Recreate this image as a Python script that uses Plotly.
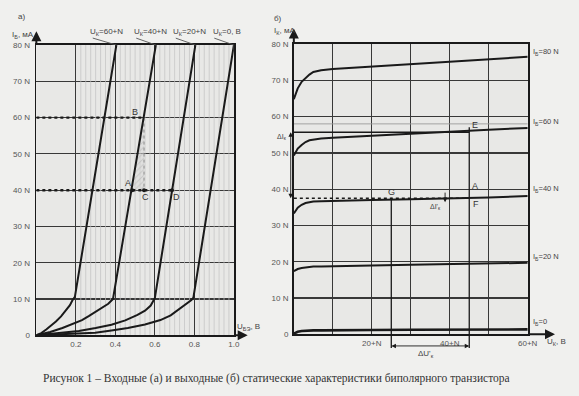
import plotly.graph_objects as go

W, H = 579, 396

# ---------------- data: (a) input characteristics ----------------
u_be_60 = [0, 0.025, 0.05, 0.075, 0.099, 0.125, 0.149, 0.17, 0.182, 0.195, 0.405]
i_b_60 = [0, 0.6, 1.6, 2.6, 3.8, 5.2, 6.9, 8.3, 9.6, 10.6, 80]
u_be_40 = [0, 0.07, 0.132, 0.18, 0.231, 0.265, 0.298, 0.335, 0.364, 0.388, 0.605]
i_b_40 = [0, 0.9, 2.0, 3.0, 4.2, 5.3, 6.5, 7.6, 8.7, 10.0, 80]
u_be_20 = [0, 0.1, 0.215, 0.3, 0.38, 0.45, 0.512, 0.55, 0.579, 0.6, 0.805]
i_b_20 = [0, 0.5, 1.2, 2.0, 2.9, 4.1, 5.6, 6.8, 8.2, 10.3, 80]
u_be_0 = [0, 0.15, 0.298, 0.38, 0.463, 0.55, 0.628, 0.68, 0.727, 0.76, 0.785, 0.795, 1.0]
i_b_0 = [0, 0.3, 0.7, 1.3, 2.0, 3.0, 4.2, 5.5, 7.3, 8.6, 9.7, 10.4, 80]
input_labels = ["U<sub>К</sub>=60+N", "U<sub>К</sub>=40+N", "U<sub>К</sub>=20+N", "U<sub>К</sub>=0, В"]
left_xtick_vals = [0, 0.2, 0.4, 0.6, 0.8, 1.0]
left_xtick_text = ["", "0.2", "0.4", "0.6", "0.8", "1.0"]
ytick_vals = [0, 10, 20, 30, 40, 50, 60, 70, 80]
ytick_text = ["0", "10 N", "20 N", "30 N", "40 N", "50 N", "60 N", "70 N", "80 N"]
pt_A = (0.485, 40)
pt_B = (0.545, 60)
pt_C = (0.545, 40)
pt_D = (0.687, 40)

# ---------------- data: (b) output characteristics ----------------
u_ce = [0, 0.5, 1, 2, 3, 4, 5, 7, 10, 20, 30, 40, 45, 50, 60]
i_c_80 = [64.8, 66.5, 67.8, 69.6, 70.7, 71.6, 72.3, 72.8, 73.1, 73.8, 74.5, 75.2, 75.5, 75.8, 76.5]
i_c_60 = [49.3, 50.5, 51.2, 52.2, 53.0, 53.5, 53.7, 54.0, 54.2, 54.8, 55.3, 55.9, 56.1, 56.4, 56.9]
i_c_40 = [33.3, 34.3, 34.9, 35.7, 36.2, 36.4, 36.6, 36.7, 36.8, 37.0, 37.2, 37.4, 37.5, 37.7, 38.1]
i_c_20 = [17.4, 17.8, 18.0, 18.3, 18.5, 18.6, 18.7, 18.7, 18.8, 19.0, 19.2, 19.4, 19.5, 19.6, 19.7]
i_c_0 = [0.2, 0.5, 0.7, 0.9, 1.0, 1.05, 1.1, 1.1, 1.15, 1.2, 1.25, 1.3, 1.3, 1.3, 1.35]
output_labels = ["I<sub>Б</sub>=80 N", "I<sub>Б</sub>=60 N", "I<sub>Б</sub>=40 N", "I<sub>Б</sub>=20 N", "I<sub>Б</sub>=0"]
right_xtick_vals = [0, 10, 20, 30, 40, 50, 60]
right_xtick_text = ["", "", "20+N", "", "40+N", "", "60+N"]
pt_E = (45, 56.1)
pt_F = (45, 37.5)
pt_G = (25, 37.1)

caption = "Рисунок 1 – Входные (а) и выходные (б) статические характеристики биполярного транзистора"

# ---------------- layout geometry (pixels) ----------------
LX0, LX1, LY0, LY1 = 37, 238, 339, 42     # panel (a): x 0..1, y 0..80
RX0, RX1, RY0, RY1 = 299, 537, 338, 41    # panel (b): x 0..60, y 0..80
LXMAX, RXMAX, YMAX = 1.0, 60.0, 80.0


def to_px(panel, x, y):
    if panel == "a":
        return LX0 + x / LXMAX * (LX1 - LX0), LY0 - y / YMAX * (LY0 - LY1)
    return RX0 + x / RXMAX * (RX1 - RX0), RY0 - y / YMAX * (RY0 - RY1)


INK = "#1a1a1a"
GRID = "#383838"
TICKC = "#555555"
fig = go.Figure()

# light minor grid on (a), between 0.2 and 1.0
minor_x, minor_y = [], []
for k in range(33):
    v = 0.2 + k * 0.025
    if k % 8 != 0:
        minor_x += [v, v, None]
        minor_y += [0, 80, None]
fig.add_trace(go.Scatter(x=minor_x, y=minor_y, mode="lines", xaxis="x", yaxis="y",
                         line=dict(color="#c2c2c2", width=0.7), hoverinfo="skip"))

fig.add_trace(go.Scatter(x=[pt_A[0], pt_B[0], pt_C[0], pt_A[0]], y=[pt_A[1], pt_B[1], pt_C[1], pt_A[1]],
                         mode="lines", fill="toself", xaxis="x", yaxis="y",
                         fillcolor="rgba(215,215,215,0.5)",
                         fillpattern=dict(shape="/", fgcolor="#b0b0b0", size=4, solidity=0.25),
                         line=dict(width=0), hoverinfo="skip"))
fig.add_trace(go.Scatter(x=[0, pt_B[0]], y=[pt_B[1], pt_B[1]], mode="lines", xaxis="x", yaxis="y",
                         line=dict(color=INK, width=2.4, dash="dot"), hoverinfo="skip"))
fig.add_trace(go.Scatter(x=[0, pt_D[0]], y=[pt_D[1], pt_D[1]], mode="lines", xaxis="x", yaxis="y",
                         line=dict(color=INK, width=2.4, dash="dot"), hoverinfo="skip"))
fig.add_trace(go.Scatter(x=[pt_B[0], pt_C[0]], y=[pt_B[1], pt_C[1]], mode="lines", xaxis="x", yaxis="y",
                         line=dict(color="#8a8a8a", width=1, dash="dot"), hoverinfo="skip"))

for xs, ys in [(u_be_60, i_b_60), (u_be_40, i_b_40), (u_be_20, i_b_20), (u_be_0, i_b_0)]:
    fig.add_trace(go.Scatter(x=xs, y=ys, mode="lines", xaxis="x", yaxis="y",
                             line=dict(color=INK, width=2), hoverinfo="skip"))

fig.add_trace(go.Scatter(x=[pt_A[0], pt_C[0], pt_D[0]], y=[pt_A[1], pt_C[1], pt_D[1]], mode="markers",
                         xaxis="x", yaxis="y", marker=dict(color=INK, size=4), hoverinfo="skip"))

# ---------- (b) ----------
fig.add_trace(go.Scatter(x=[0, 60], y=[58, 58], mode="lines", xaxis="x2", yaxis="y2",
                         line=dict(color="#9a9a9a", width=0.9), hoverinfo="skip"))
fig.add_trace(go.Scatter(x=[0, pt_F[0]], y=[pt_F[1], pt_F[1]], mode="lines", xaxis="x2", yaxis="y2",
                         line=dict(color=INK, width=1.6, dash="dot"), hoverinfo="skip"))
fig.add_trace(go.Scatter(x=[0, pt_E[0]], y=[pt_E[1] - 0.4, pt_E[1] - 0.4], mode="lines", xaxis="x2", yaxis="y2",
                         line=dict(color=INK, width=1.4), hoverinfo="skip"))
for ys in [i_c_80, i_c_60, i_c_40, i_c_20]:
    fig.add_trace(go.Scatter(x=u_ce, y=ys, mode="lines", xaxis="x2", yaxis="y2",
                             line=dict(color=INK, width=2), hoverinfo="skip"))
fig.add_trace(go.Scatter(x=u_ce, y=i_c_0, mode="lines", xaxis="x2", yaxis="y2",
                         line=dict(color=INK, width=2.6), hoverinfo="skip"))

tickfont = dict(family="Liberation Sans, Arial, sans-serif", size=8, color=TICKC)
common = dict(showgrid=True, gridcolor=GRID, gridwidth=1.2, zeroline=False, showline=True,
              linecolor=INK, linewidth=1.8, mirror=True, ticks="", tickfont=tickfont, fixedrange=True)

fig.update_layout(
    width=W, height=H, margin=dict(l=0, r=0, t=0, b=0),
    paper_bgcolor="#f0f0ee", plot_bgcolor="#e8e8e6", showlegend=False,
    xaxis=dict(domain=[LX0 / W, LX1 / W], range=[0, LXMAX], tickvals=left_xtick_vals, ticktext=left_xtick_text,
               anchor="y", **common),
    yaxis=dict(domain=[(H - LY0) / H, (H - LY1) / H], range=[0, YMAX], tickvals=ytick_vals, ticktext=ytick_text,
               anchor="x", ticklabelstandoff=3, **common),
    xaxis2=dict(domain=[RX0 / W, RX1 / W], range=[0, RXMAX], tickvals=right_xtick_vals, ticktext=right_xtick_text,
                anchor="y2", **common),
    yaxis2=dict(domain=[(H - RY0) / H, (H - RY1) / H], range=[0, YMAX], tickvals=ytick_vals, ticktext=ytick_text,
                anchor="x2", ticklabelstandoff=2, **common),
)

ann = []
lblfont = dict(family="Liberation Sans, Arial, sans-serif", size=8, color="#444")
letfont = dict(family="Liberation Sans, Arial, sans-serif", size=9, color="#333")


def line_ann(panel, x0, y0, x1, y1, head=0, width=1.2, color=INK, side="end"):
    px0, py0 = to_px(panel, x0, y0)
    px1, py1 = to_px(panel, x1, y1)
    ann.append(dict(xref="paper", yref="paper", x=px1 / W, y=1 - py1 / H,
                    ax=px0 - px1, ay=py0 - py1, text="",
                    showarrow=True, arrowhead=head, arrowsize=1, arrowwidth=width, arrowcolor=color,
                    arrowside=side, standoff=0, startstandoff=0))


def text_px(px, py, t, font, xa="center", ya="middle"):
    ann.append(dict(xref="paper", yref="paper", x=px / W, y=1 - py / H, text=t, showarrow=False,
                    font=font, xanchor=xa, yanchor=ya))


def text_ann(panel, x, y, t, font, xa="center", ya="middle"):
    px, py = to_px(panel, x, y)
    text_px(px, py, t, font, xa, ya)


# axis arrows
line_ann("a", 0, 80, 0, 83.8, head=2, width=2)
line_ann("a", 1.0, 0, 1.07, 0, head=2, width=2)
line_ann("b", 0, 80, 0, 84.3, head=2, width=2)
line_ann("b", 60, 0, 67, 0, head=2, width=2)

# (a) labels
label_x = [0.355, 0.58, 0.775, 0.965]
leader_from = [0.28, 0.5, 0.70, 0.895]
tops = [u_be_60[-1], u_be_40[-1], u_be_20[-1], u_be_0[-1]]
for lx, lf, tp, t in zip(label_x, leader_from, tops, input_labels):
    text_ann("a", lx, 83.6, t, lblfont)
    line_ann("a", lf, 82.0, tp, 80, width=0.9, color="#555")
text_ann("a", 0.5, 61.6, "B", letfont)
text_ann("a", 0.465, 42.0, "A", letfont)
text_ann("a", 0.55, 38.1, "C", letfont)
text_ann("a", 0.71, 38.0, "D", letfont)
text_px(22, 13, "а)", lblfont)
text_px(23, 32, "I<sub>Б</sub>, мА", lblfont)
text_px(253, 331, "U<sub>БЭ</sub>, В", lblfont)

# (b) construction
line_ann("b", pt_E[0], pt_E[1], pt_E[0], -3.8, width=1.3)
line_ann("b", pt_G[0], pt_G[1], pt_G[0], -3.8, width=1.3)
line_ann("b", 25, -3.2, 45, -3.2, head=2, width=0.9, side="end+start")
line_ann("b", -0.8, pt_E[1] - 0.4, -0.8, pt_F[1], head=2, width=0.9, side="end+start")
line_ann("b", 38.8, 39.4, 38.8, 36.4, head=2, width=0.9)
text_ann("b", 46.4, 57.7, "E", letfont)
text_ann("b", 46.6, 40.8, "A", letfont)
text_ann("b", 46.8, 35.9, "F", letfont)
text_ann("b", 25.0, 39.3, "G", letfont)
text_ann("b", 33.8, -5.4, "ΔU'<sub>к</sub>", lblfont)
text_ann("b", 36.3, 35.2, "ΔI'<sub>к</sub>", dict(lblfont, size=7))
text_px(287, 136, "ΔI<sub>к</sub>", dict(lblfont, size=7))
for y, t in zip([77.8, 58.4, 40.0, 21.4, 3.3], output_labels):
    text_ann("b", 60.8, y, t, dict(lblfont, size=7.5), xa="left")
text_px(283, 15, "б)", lblfont)
text_px(290, 28, "I<sub>К</sub>, мА", lblfont)
text_px(566, 346, "U<sub>К</sub>, В", lblfont)

text_px(281, 383, caption, dict(family="Liberation Serif, Times New Roman, serif", size=11.5, color="#333"))

fig.update_layout(annotations=ann)

post = (
    "document.documentElement.style.overflow='hidden';"
    "document.body.style.margin='0';document.body.style.overflow='hidden';"
    "document.body.style.background='#f0f0ee';"
    "var gd=document.getElementById('{plot_id}');"
    "var vw=document.documentElement.clientWidth||window.innerWidth;"
    "var vh=document.documentElement.clientHeight||window.innerHeight;"
    "if(vw>0&&vh>0&&(Math.abs(vw-%d)>1||Math.abs(vh-%d)>1)){"
    "gd.style.width=vw+'px';gd.style.height=vh+'px';"
    "Plotly.relayout(gd,{width:vw,height:vh});}" % (W, H)
)
fig.write_html("out.html", config=dict(displayModeBar=False, staticPlot=True), post_script=post)
